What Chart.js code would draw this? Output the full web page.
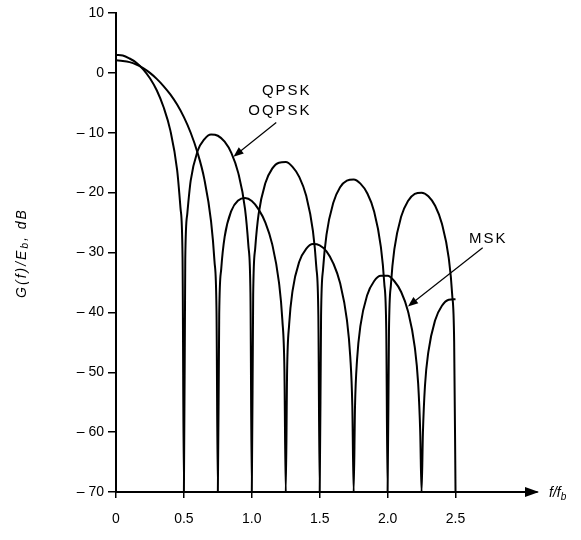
<!DOCTYPE html>
<html>
<head>
<meta charset="utf-8">
<script src="https://cdn.jsdelivr.net/npm/chart.js@4"></script>
<style>
  body { margin: 0; background: #fff; }
  canvas { display: block; }
</style>
</head>
<body>
<canvas id="chart" width="581" height="540"></canvas>
<script>
// values (f/fb, dB)
const qpskF = [0,0.05,0.1,0.15,0.2,0.25,0.3,0.35,0.4,0.45,0.475,0.49,0.5,0.51,0.525,0.55,0.6,0.65,0.7,0.75,0.8,0.85,0.9,0.95,0.975,0.99,1.0,1.01,1.025,1.05,1.1,1.15,1.2,1.25,1.3,1.35,1.4,1.45,1.475,1.49,1.5,1.51,1.525,1.55,1.6,1.65,1.7,1.75,1.8,1.85,1.9,1.95,1.975,1.99,2.0,2.01,2.025,2.05,2.1,2.15,2.2,2.25,2.3,2.35,2.4,2.45,2.475,2.49,2.5];
const qpskDb = [3.0,2.9,2.4,1.7,0.6,-0.9,-2.9,-5.7,-9.6,-16.2,-22.6,-30.8,-70,-31.1,-23.5,-18.0,-13.1,-11.1,-10.3,-10.5,-11.5,-13.4,-16.7,-22.7,-28.9,-36.9,-70,-37.1,-29.3,-23.6,-18.4,-16.0,-15.0,-14.9,-15.7,-17.4,-20.5,-26.4,-32.4,-40.5,-70,-40.6,-32.7,-27.0,-21.7,-19.1,-18.0,-17.8,-18.5,-20.1,-23.1,-29.0,-35.0,-43.0,-70,-43.1,-35.2,-29.4,-24.0,-21.4,-20.2,-20.0,-20.6,-22.2,-25.2,-30.9,-36.9,-44.9,-70];

const mskF = [0,0.05,0.1,0.15,0.2,0.25,0.3,0.35,0.4,0.45,0.5,0.55,0.6,0.65,0.7,0.725,0.74,0.75,0.76,0.775,0.8,0.85,0.9,0.95,1.0,1.05,1.1,1.15,1.2,1.225,1.24,1.25,1.26,1.275,1.3,1.35,1.4,1.45,1.5,1.55,1.6,1.65,1.7,1.725,1.74,1.75,1.76,1.775,1.8,1.85,1.9,1.95,2.0,2.05,2.1,2.15,2.2,2.225,2.24,2.25,2.26,2.275,2.3,2.35,2.4,2.45,2.5];
const mskDb = [2.1,2.0,1.8,1.4,0.8,0.0,-1.0,-2.2,-3.6,-5.3,-7.4,-10.0,-13.3,-17.7,-24.8,-31.4,-39.7,-70,-40.3,-32.7,-27.4,-23.0,-21.3,-20.9,-21.4,-22.8,-25.0,-28.6,-35.0,-41.3,-49.4,-70,-49.7,-42.0,-36.4,-31.5,-29.4,-28.6,-28.8,-29.8,-31.8,-35.1,-41.2,-47.4,-55.5,-70,-55.7,-47.9,-42.2,-37.1,-34.8,-33.9,-33.9,-34.8,-36.6,-39.8,-45.8,-51.9,-59.9,-70,-60.1,-52.3,-46.6,-41.3,-38.9,-37.9,-37.8];

const xTicks = [0, 0.5, 1.0, 1.5, 2.0, 2.5];
const xTickLabels = ["0", "0.5", "1.0", "1.5", "2.0", "2.5"];
const yTicks = [10, 0, -10, -20, -30, -40, -50, -60, -70];
const yTickLabels = ["10", "0", "– 10", "– 20", "– 30", "– 40", "– 50", "– 60", "– 70"];

const FONT = "'Liberation Sans', Arial, sans-serif";

function arrow(ctx, x1, y1, x2, y2, len, half) {
  const a = Math.atan2(y2 - y1, x2 - x1);
  ctx.beginPath();
  ctx.moveTo(x1, y1);
  ctx.lineTo(x2 - Math.cos(a) * len * 0.6, y2 - Math.sin(a) * len * 0.6);
  ctx.stroke();
  ctx.beginPath();
  ctx.moveTo(x2, y2);
  ctx.lineTo(x2 - Math.cos(a) * len + Math.sin(a) * half, y2 - Math.sin(a) * len - Math.cos(a) * half);
  ctx.lineTo(x2 - Math.cos(a) * len - Math.sin(a) * half, y2 - Math.sin(a) * len + Math.cos(a) * half);
  ctx.closePath();
  ctx.fill();
}

const decor = {
  id: "decor",
  afterDraw(chart) {
    const ctx = chart.ctx;
    const xs = chart.scales.x, ys = chart.scales.y;
    const px = v => xs.getPixelForValue(v);
    const py = v => ys.getPixelForValue(v);
    const area = chart.chartArea;
    ctx.save();
    ctx.fillStyle = "#000";
    ctx.strokeStyle = "#000";

    // x axis arrow head
    ctx.beginPath();
    ctx.moveTo(area.right + 2, area.bottom);
    ctx.lineTo(area.right - 12, area.bottom - 5);
    ctx.lineTo(area.right - 12, area.bottom + 5);
    ctx.closePath();
    ctx.fill();

    // f/fb
    ctx.font = "italic 14px " + FONT;
    ctx.textBaseline = "middle";
    ctx.textAlign = "left";
    ctx.fillText("f/f", area.right + 12, area.bottom + 1);
    const w = ctx.measureText("f/f").width;
    ctx.font = "italic 10px " + FONT;
    ctx.fillText("b", area.right + 12 + w, area.bottom + 5);

    // y title
    ctx.save();
    ctx.translate(22, 253);
    ctx.rotate(-Math.PI / 2);
    ctx.letterSpacing = "2px";
    const parts = [["G(f)/E", 14, 0], ["b", 10, 3], [", dB", 14, 0]];
    let total = 0;
    parts.forEach(p => { ctx.font = "italic " + p[1] + "px " + FONT; total += ctx.measureText(p[0]).width; });
    let cx = -total / 2;
    parts.forEach(p => {
      ctx.font = "italic " + p[1] + "px " + FONT;
      ctx.fillText(p[0], cx, p[2]);
      cx += ctx.measureText(p[0]).width;
    });
    ctx.restore();

    // curve labels
    ctx.font = "15px " + FONT;
    ctx.letterSpacing = "2px";
    ctx.textBaseline = "alphabetic";
    ctx.textAlign = "right";
    ctx.fillText("QPSK", px(1.44), py(-3.7));
    ctx.fillText("OQPSK", px(1.44), py(-7.0));
    ctx.textAlign = "left";
    ctx.fillText("MSK", px(2.6), py(-28.4));
    ctx.letterSpacing = "0px";

    ctx.lineWidth = 1.2;
    arrow(ctx, px(1.18), py(-8.3), px(0.865), py(-14.0), 10, 4);
    arrow(ctx, px(2.7), py(-29.2), px(2.15), py(-39.0), 10, 4);
    ctx.restore();
  }
};

new Chart(document.getElementById("chart"), {
  type: "line",
  data: {
    datasets: [
      {
        label: "QPSK, OQPSK",
        data: qpskF.map((f, i) => ({ x: f, y: qpskDb[i] })),
        borderColor: "#000",
        borderWidth: 2,
        pointRadius: 0,
        cubicInterpolationMode: "monotone",
      },
      {
        label: "MSK",
        data: mskF.map((f, i) => ({ x: f, y: mskDb[i] })),
        borderColor: "#000",
        borderWidth: 2,
        pointRadius: 0,
        cubicInterpolationMode: "monotone",
      },
    ]
  },
  options: {
    responsive: false,
    animation: false,
    devicePixelRatio: 1,
    layout: { padding: { top: 13, right: 44, left: 0, bottom: 0 } },
    plugins: {
      legend: { display: false },
      tooltip: { enabled: false },
    },
    scales: {
      x: {
        type: "linear",
        min: 0,
        max: 3.1,
        afterBuildTicks: s => { s.ticks = xTicks.map(v => ({ value: v })); },
        afterFit: s => { s.height = 48; },
        ticks: {
          color: "#000",
          font: { family: FONT, size: 14 },
          padding: 13,
          maxRotation: 0,
          callback: (v) => xTickLabels[xTicks.indexOf(v)],
        },
        grid: { drawOnChartArea: false, color: "#000", tickLength: 6, lineWidth: 1.5 },
        border: { color: "#000", width: 2 },
      },
      y: {
        min: -70,
        max: 10,
        afterBuildTicks: s => { s.ticks = yTicks.map(v => ({ value: v })); },
        afterFit: s => { s.width = 116; },
        ticks: {
          color: "#000",
          font: { family: FONT, size: 14 },
          padding: 4,
          callback: (v) => yTickLabels[yTicks.indexOf(v)],
        },
        grid: { drawOnChartArea: false, color: "#000", tickLength: 8, lineWidth: 1.5 },
        border: { color: "#000", width: 2 },
      },
    }
  },
  plugins: [decor]
});
</script>
</body>
</html>
